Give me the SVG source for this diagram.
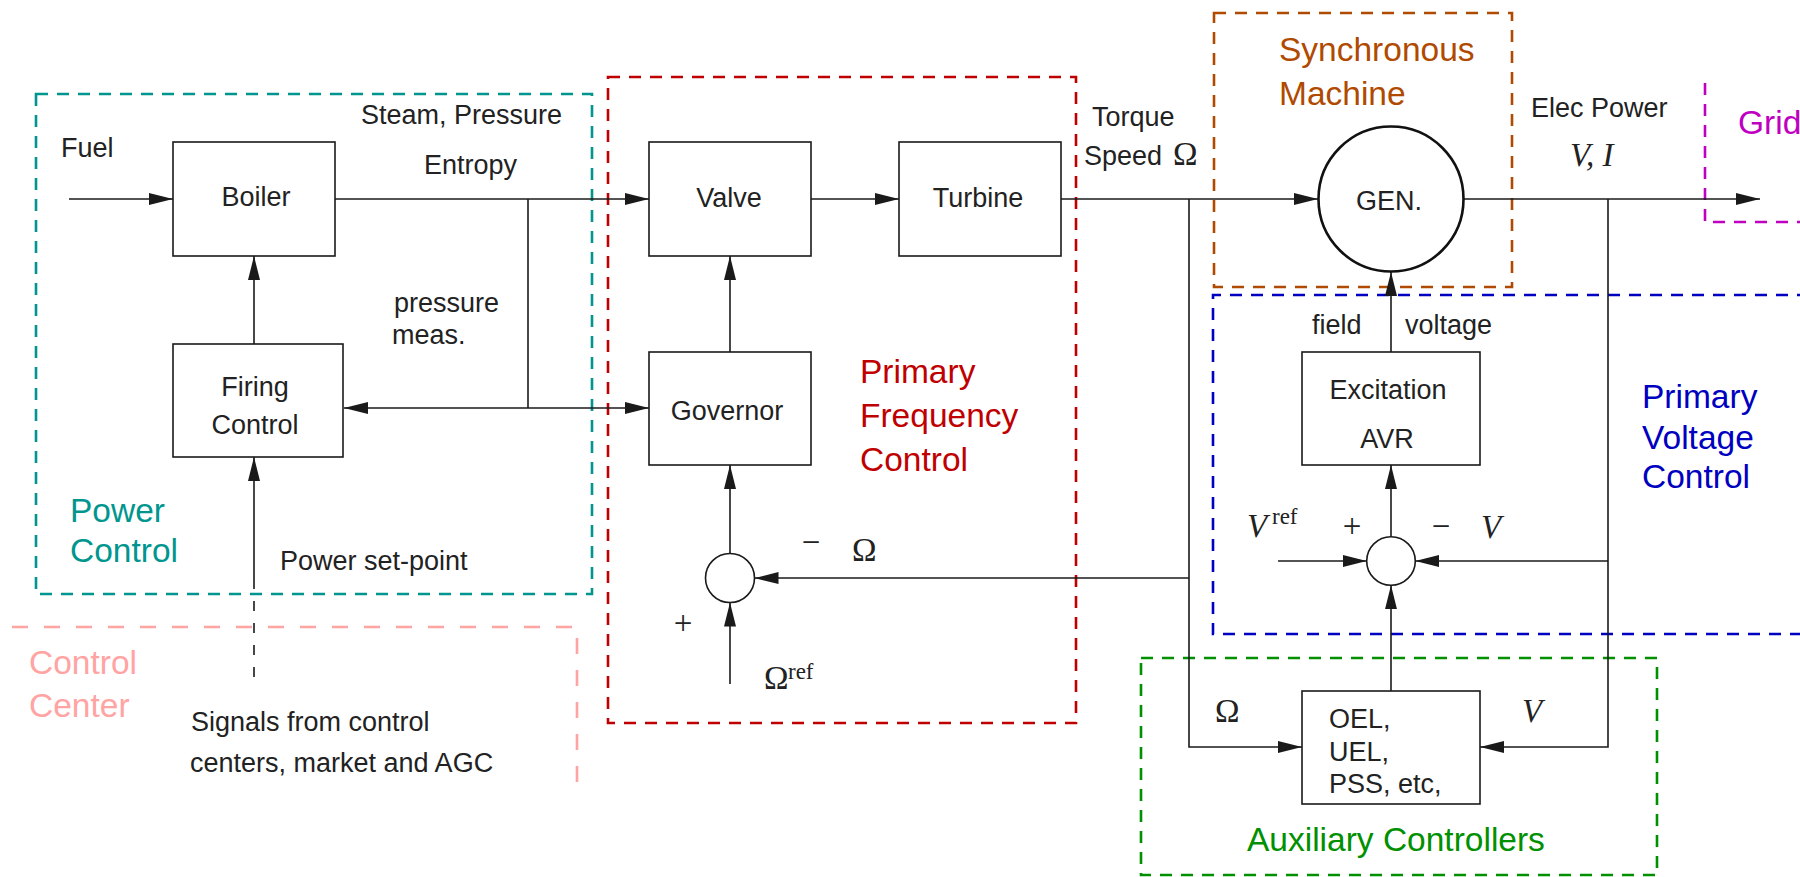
<svg xmlns="http://www.w3.org/2000/svg" width="1800" height="877" viewBox="0 0 1800 877">
  <defs>
    <marker id="arr" markerUnits="userSpaceOnUse" markerWidth="24" markerHeight="12" refX="24" refY="6" orient="auto">
      <path d="M0,0 L24,6 L0,12 z" fill="#1a1a1a"/>
    </marker>
    <style>
      .bg { fill: #ffffff; }
      .blk { fill: #ffffff; stroke: #1a1a1a; stroke-width: 1.6; }
      .sum { fill: #ffffff; stroke: #1a1a1a; stroke-width: 1.6; }
      .gen { fill: #ffffff; stroke: #111111; stroke-width: 2.6; }
      .wire { fill: none; stroke: #1a1a1a; stroke-width: 1.6; }
      .arrow { fill: none; stroke: #1a1a1a; stroke-width: 1.6; marker-end: url(#arr); }
      .dashwire { fill: none; stroke: #1a1a1a; stroke-width: 1.6; stroke-dasharray: 10 12; }
      .zone { fill: none; stroke-width: 2.6; stroke-dasharray: 12 9; }
      .t { font-family: "Liberation Sans", Arial, Helvetica, sans-serif; font-size: 27px; fill: #222222; }
      .mid { text-anchor: middle; }
      .lbl { font-family: "Liberation Sans", Arial, Helvetica, sans-serif; font-size: 33.5px; }
      .math { font-family: "Liberation Serif", "Times New Roman", serif; font-size: 33px; fill: #222222; }
      .it { font-style: italic; }
      .sup { font-family: "Liberation Serif", "Times New Roman", serif; font-size: 23px; fill: #222222; }
    </style>
  </defs>

  <rect class="bg" x="0" y="0" width="1800" height="877"/>

  <!-- control zones (dashed outlines) -->
  <g id="zones">
    <rect id="zone-power" class="zone" x="36" y="94" width="556" height="500" stroke="#00968f"/>
    <path id="zone-center" class="zone" d="M12,627 H577 V790" stroke="#ffa3a3" style="stroke-dasharray:16 16"/>
    <rect id="zone-freq" class="zone" x="608" y="77" width="468" height="646" stroke="#c00000"/>
    <rect id="zone-sync" class="zone" x="1214" y="13" width="298" height="274" stroke="#b04a00"/>
    <path id="zone-grid" class="zone" d="M1830,222 H1705 V78" stroke="#c000c0"/>
    <path id="zone-volt" class="zone" d="M1830,295 H1213 V634 H1830" stroke="#0000c0"/>
    <rect id="zone-aux" class="zone" x="1141" y="658" width="516" height="217" stroke="#009000"/>
  </g>

  <!-- zone titles -->
  <g id="zone-labels" class="lbl">
    <text x="70" y="522" fill="#00968f">Power</text>
    <text x="70" y="562" fill="#00968f">Control</text>
    <text x="29" y="674" fill="#ffa3a3">Control</text>
    <text x="29" y="717" fill="#ffa3a3">Center</text>
    <text x="860" y="383" fill="#c00000">Primary</text>
    <text x="860" y="427" fill="#c00000">Frequency</text>
    <text x="860" y="471" fill="#c00000">Control</text>
    <text x="1279" y="61" fill="#b04a00">Synchronous</text>
    <text x="1279" y="105" fill="#b04a00">Machine</text>
    <text x="1738" y="134" fill="#c000c0">Grid</text>
    <text x="1642" y="408" fill="#0000c0">Primary</text>
    <text x="1642" y="449" fill="#0000c0">Voltage</text>
    <text x="1642" y="488" fill="#0000c0">Control</text>
    <text x="1247" y="851" fill="#009000">Auxiliary Controllers</text>
  </g>

  <!-- signal connectors -->
  <g id="connectors">
    <path class="arrow" d="M69,199 H173"/>
    <path class="arrow" d="M335,199 H649"/>
    <path class="wire" d="M528,199 V408"/>
    <path class="arrow" d="M528,408 H344"/>
    <path class="arrow" d="M528,408 H649"/>
    <path class="arrow" d="M254,344 V256"/>
    <path class="arrow" d="M254,579 V457"/>
    <path class="dashwire" d="M254,579 V688"/>
    <path class="arrow" d="M811,199 H899"/>
    <path class="arrow" d="M730,352 V256"/>
    <path class="arrow" d="M730,553 V465"/>
    <path class="arrow" d="M730,684 V602.5"/>
    <path class="arrow" d="M1189,578 H754.5"/>
    <path class="arrow" d="M1061,199 H1318"/>
    <path class="arrow" d="M1189,199 V747 H1302"/>
    <path class="arrow" d="M1464,199 H1760"/>
    <path class="arrow" d="M1608,199 V747 H1480"/>
    <path class="arrow" d="M1608,561 H1415.3"/>
    <path class="arrow" d="M1278,561 H1366.7"/>
    <path class="arrow" d="M1391,536.7 V465"/>
    <path class="arrow" d="M1391,352 V272"/>
    <path class="arrow" d="M1391,691 V585.3"/>
  </g>

  <!-- blocks -->
  <g id="boiler">
    <rect class="blk" x="173" y="142" width="162" height="114"/>
    <text class="t mid" x="256" y="206">Boiler</text>
  </g>
  <g id="firing-control">
    <rect class="blk" x="173" y="344" width="170" height="113"/>
    <text class="t mid" x="255" y="396">Firing</text>
    <text class="t mid" x="255" y="434">Control</text>
  </g>
  <g id="valve">
    <rect class="blk" x="649" y="142" width="162" height="114"/>
    <text class="t mid" x="729" y="207">Valve</text>
  </g>
  <g id="turbine">
    <rect class="blk" x="899" y="142" width="162" height="114"/>
    <text class="t mid" x="978" y="207">Turbine</text>
  </g>
  <g id="governor">
    <rect class="blk" x="649" y="352" width="162" height="113"/>
    <text class="t mid" x="727" y="420">Governor</text>
  </g>
  <g id="sum-speed">
    <circle class="sum" cx="730" cy="578" r="24.5"/>
  </g>
  <g id="generator">
    <circle class="gen" cx="1391" cy="199" r="72.5"/>
    <text class="t mid" x="1389" y="210">GEN.</text>
  </g>
  <g id="excitation">
    <rect class="blk" x="1302" y="352" width="178" height="113"/>
    <text class="t mid" x="1388" y="399">Excitation</text>
    <text class="t mid" x="1387" y="448">AVR</text>
  </g>
  <g id="sum-voltage">
    <circle class="sum" cx="1391" cy="561" r="24.3"/>
  </g>
  <g id="aux-block">
    <rect class="blk" x="1302" y="691" width="178" height="113"/>
    <text class="t" x="1329" y="728">OEL,</text>
    <text class="t" x="1329" y="761">UEL,</text>
    <text class="t" x="1329" y="793">PSS, etc,</text>
  </g>

  <!-- signal labels -->
  <g id="signal-labels">
    <text class="t" x="61" y="157">Fuel</text>
    <text class="t" x="361" y="124">Steam, Pressure</text>
    <text class="t" x="424" y="174">Entropy</text>
    <text class="t" x="394" y="312">pressure</text>
    <text class="t" x="392" y="344">meas.</text>
    <text class="t" x="280" y="570">Power set-point</text>
    <text class="t" x="191" y="731">Signals from control</text>
    <text class="t" x="190" y="772">centers, market and AGC</text>
    <text class="t" x="1092" y="126">Torque</text>
    <text class="t" x="1084" y="165">Speed</text>
    <text class="math" x="1173" y="165">Ω</text>
    <text class="t" x="1531" y="117">Elec Power</text>
    <text class="math it" x="1570" y="166">V, I</text>
    <text class="t" x="1312" y="334">field</text>
    <text class="t" x="1405" y="334">voltage</text>
    <text class="math mid" x="811" y="553">−</text>
    <text class="math" x="852" y="561">Ω</text>
    <text class="math mid" x="683" y="634">+</text>
    <text class="math" x="764" y="689">Ω</text>
    <text class="sup" x="788" y="679">ref</text>
    <text class="math it" x="1247" y="537">V</text>
    <text class="sup" x="1272" y="524">ref</text>
    <text class="math mid" x="1352" y="537">+</text>
    <text class="math mid" x="1441" y="537">−</text>
    <text class="math it" x="1481" y="538">V</text>
    <text class="math" x="1215" y="722">Ω</text>
    <text class="math it" x="1522" y="722">V</text>
  </g>
</svg>
